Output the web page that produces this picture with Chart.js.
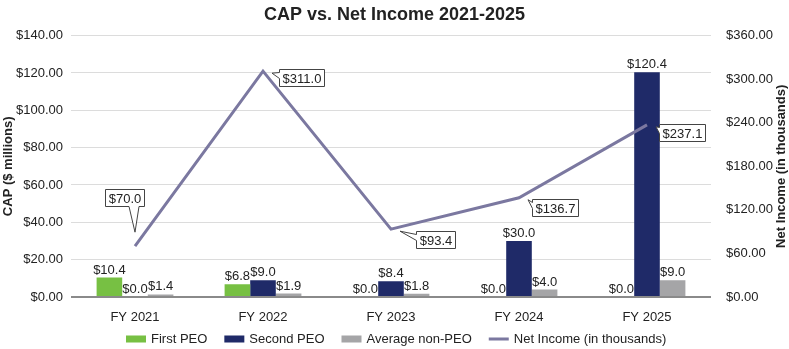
<!DOCTYPE html>
<html>
<head>
<meta charset="utf-8">
<script src="https://cdn.jsdelivr.net/npm/chart.js@4.4.1/dist/chart.umd.min.js"></script>
<style>
  body { margin: 0; background: #fff; }
  canvas { display: block; }
</style>
</head>
<body>
<canvas id="capChart" width="789" height="349"></canvas>
<script>
const years = ['FY 2021', 'FY 2022', 'FY 2023', 'FY 2024', 'FY 2025'];
const firstPeo = [10.4, 6.8, 0.0, 0.0, 0.0];
const secondPeo = [0.0, 9.0, 8.4, 30.0, 120.4];
const avgNonPeo = [1.4, 1.9, 1.8, 4.0, 9.0];
const netIncome = [70.0, 311.0, 93.4, 136.7, 237.1];

// where each net income callout box sits, relative to its point
const calloutOffsets = [[-11, -49], [38, 6], [44, 10], [36, 10], [35, 8]];

const FONT = "'Liberation Sans', Arial, sans-serif";
const money = v => '$' + v.toFixed(1);

// "$x.x" above every bar, including the zero ones
const barLabels = {
    id: 'barLabels',
    afterDatasetsDraw(chart) {
        const ctx = chart.ctx;
        ctx.save();
        ctx.font = '13px ' + FONT;
        ctx.fillStyle = '#222';
        ctx.textAlign = 'center';
        ctx.textBaseline = 'bottom';
        chart.data.datasets.forEach((ds, di) => {
            if (ds.type === 'line') return;
            const meta = chart.getDatasetMeta(di);
            meta.data.forEach((bar, i) => {
                ctx.fillText(money(ds.data[i]), bar.x, bar.y - 1);
            });
        });
        ctx.restore();
    }
};

// boxed callouts with a little pointer for the net income line
const callouts = {
    id: 'callouts',
    afterDatasetsDraw(chart) {
        const ctx = chart.ctx;
        const di = chart.data.datasets.findIndex(d => d.type === 'line');
        const meta = chart.getDatasetMeta(di);
        ctx.save();
        ctx.font = '13px ' + FONT;
        meta.data.forEach((pt, i) => {
            const text = money(netIncome[i]);
            const w = Math.round(ctx.measureText(text).width + 6);
            const h = 17;
            const cx = pt.x + calloutOffsets[i][0];
            const cy = pt.y + calloutOffsets[i][1];
            const L = Math.round(cx - w / 2) + 0.5, R = L + w;
            const T = Math.round(cy - h / 2) + 0.5, B = T + h;
            ctx.beginPath();
            if (pt.y > B) {
                const tx = pt.x, ty = pt.y - 14;
                const b1 = Math.max(L + 2, tx - 6), b2 = Math.min(R - 2, tx + 4);
                ctx.moveTo(L, T); ctx.lineTo(R, T); ctx.lineTo(R, B);
                ctx.lineTo(b2, B); ctx.lineTo(tx, ty); ctx.lineTo(b1, B);
                ctx.lineTo(L, B);
            } else {
                const tx = pt.x + 9, ty = pt.y + 2;
                ctx.moveTo(L, T); ctx.lineTo(R, T); ctx.lineTo(R, B);
                ctx.lineTo(L, B); ctx.lineTo(L, T + 9); ctx.lineTo(tx, ty);
                ctx.lineTo(L, T + 3);
            }
            ctx.closePath();
            ctx.fillStyle = '#fff';
            ctx.fill();
            ctx.strokeStyle = '#444';
            ctx.lineWidth = 1;
            ctx.stroke();
            ctx.fillStyle = '#222';
            ctx.textAlign = 'center';
            ctx.textBaseline = 'middle';
            ctx.fillText(text, (L + R) / 2, (T + B) / 2 + 1);
        });
        ctx.restore();
    }
};

// legend row under the axis, plus the right axis title read bottom-to-top
const bottomLegend = {
    id: 'bottomLegend',
    afterDraw(chart) {
        const ctx = chart.ctx;
        const y = 339;
        let x = 126;
        ctx.save();
        ctx.font = '13px ' + FONT;
        ctx.textBaseline = 'middle';
        ctx.textAlign = 'left';
        chart.data.datasets.forEach(ds => {
            if (ds.type === 'line') {
                ctx.fillStyle = ds.borderColor;
                ctx.fillRect(x, y - 1.5, 20, 3);
            } else {
                ctx.fillStyle = ds.backgroundColor;
                ctx.fillRect(x, y - 3.5, 20, 7);
            }
            ctx.fillStyle = '#222';
            ctx.fillText(ds.label, x + 25, y);
            x += 25 + ctx.measureText(ds.label).width + 17;
        });

        const area = chart.chartArea;
        ctx.translate(781, (area.top + area.bottom) / 2);
        ctx.rotate(-Math.PI / 2);
        ctx.font = 'bold 13px ' + FONT;
        ctx.textAlign = 'center';
        ctx.fillText('Net Income (in thousands)', 0, 0);
        ctx.restore();
    }
};

new Chart(document.getElementById('capChart'), {
    type: 'bar',
    data: {
        labels: years,
        datasets: [{
            label: 'First PEO',
            data: firstPeo,
            backgroundColor: '#77c043',
            yAxisID: 'y',
            order: 1
        }, {
            label: 'Second PEO',
            data: secondPeo,
            backgroundColor: '#1f2a68',
            yAxisID: 'y',
            order: 1
        }, {
            label: 'Average non-PEO',
            data: avgNonPeo,
            backgroundColor: '#a5a5a7',
            yAxisID: 'y',
            order: 1
        }, {
            type: 'line',
            label: 'Net Income (in thousands)',
            data: netIncome,
            borderColor: '#7b78a0',
            backgroundColor: '#7b78a0',
            borderWidth: 3,
            pointRadius: 0,
            tension: 0,
            yAxisID: 'y2',
            order: 0
        }]
    },
    options: {
        responsive: false,
        animation: false,
        layout: { padding: { left: 0, right: 0, top: 0, bottom: 22 } },
        datasets: {
            bar: { categoryPercentage: 0.6, barPercentage: 1.0 }
        },
        plugins: {
            legend: { display: false },
            tooltip: { enabled: false },
            title: {
                display: true,
                text: 'CAP vs. Net Income 2021-2025',
                color: '#222',
                font: { family: FONT, size: 18, weight: 'bold' },
                padding: { top: 4, bottom: 10 }
            }
        },
        scales: {
            x: {
                grid: { display: false },
                border: { display: false },
                ticks: { color: '#222', padding: 5, font: { family: FONT, size: 13 } },
                afterFit(scale) { scale.height = 30; }
            },
            y: {
                position: 'left',
                min: 0,
                max: 140,
                ticks: {
                    stepSize: 20,
                    padding: 8,
                    color: '#222',
                    font: { family: FONT, size: 13 },
                    callback: v => '$' + v.toFixed(2)
                },
                grid: {
                    drawTicks: false,
                    color: c => c.tick && c.tick.value === 0 ? '#8a8a8a' : '#dcdcdc',
                    lineWidth: c => c.tick && c.tick.value === 0 ? 2 : 1
                },
                border: { display: false },
                title: {
                    display: true,
                    text: 'CAP ($ millions)',
                    color: '#222',
                    font: { family: FONT, size: 13, weight: 'bold' },
                    padding: { top: 1, bottom: 0 }
                },
                afterFit(scale) { scale.width = 71; }
            },
            y2: {
                position: 'right',
                min: 0,
                max: 360,
                ticks: {
                    stepSize: 60,
                    padding: 15,
                    color: '#222',
                    font: { family: FONT, size: 13 },
                    callback: v => '$' + v.toFixed(2)
                },
                grid: { display: false, drawTicks: false },
                border: { display: false },
                afterFit(scale) { scale.width = 78; }
            }
        }
    },
    plugins: [barLabels, callouts, bottomLegend]
});
</script>
</body>
</html>
